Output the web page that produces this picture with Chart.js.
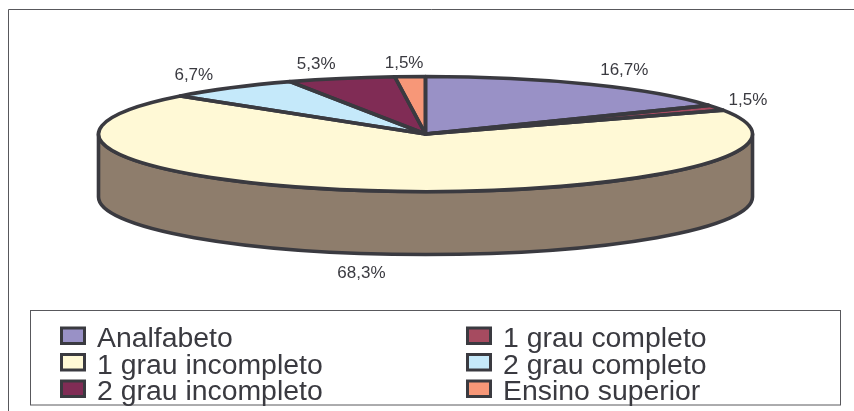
<!DOCTYPE html>
<html>
<head>
<meta charset="utf-8">
<style>html,body{margin:0;padding:0;background:#fff}canvas{display:block}</style>
<script src="https://cdn.jsdelivr.net/npm/chart.js@4"></script>
</head>
<body>
<canvas id="c" width="854" height="411"></canvas>
<script>
const categories = ['Analfabeto','1 grau completo','1 grau incompleto','2 grau completo','2 grau incompleto','Ensino superior'];
const percentages = [16.7,1.5,68.3,6.7,5.3,1.5];
const sliceColors = ['#9991c6','#a64b60','#fff9d6','#c5e9fa','#802c55','#f79778'];
const wallColors = ['#6f6a90','#7a3a48','#8e7d6c','#8fa8b4','#5e2240','#b36f58'];
const labelOffsets = [[35,-9],[31.6,-2.7],[-16,87.5],[-37,-8],[-25,-9],[-6,-8.6]];

const INK = '#3a3a40';
const FRAME = '#58585c';
const SQUASH = 57.5 / 327;
const DEPTH = 63;
const BORDER = 3.6;

function eachArc(chart, fn){
  chart.getDatasetMeta(0).data.forEach((arc, i) => fn(arc, i));
}

const pie3d = {
  id: 'pie3d',
  beforeDraw(chart){
    const ctx = chart.ctx;
    ctx.save();
    ctx.fillStyle = '#fff';
    ctx.fillRect(0,0,chart.width,chart.height);
    ctx.strokeStyle = FRAME;
    ctx.lineWidth = 1;
    ctx.beginPath();
    ctx.moveTo(8.5,411); ctx.lineTo(8.5,9.5); ctx.lineTo(854,9.5);
    ctx.stroke();
    ctx.restore();
  },
  beforeDatasetsDraw(chart){
    const ctx = chart.ctx;
    // side wall: front half of each slice, pushed down by the depth
    eachArc(chart, (arc, i) => {
      const p = arc.getProps(['x','y','startAngle','endAngle','outerRadius'], true);
      const tau = Math.PI*2;
      for (const k of [0, tau]) {
        const a = Math.max(p.startAngle - k, 0), b = Math.min(p.endAngle - k, Math.PI);
        if (b <= a) continue;
        const rx = p.outerRadius, ry = rx*SQUASH;
        ctx.save();
        ctx.beginPath();
        ctx.ellipse(p.x, p.y, rx, ry, 0, a, b);
        ctx.ellipse(p.x, p.y + DEPTH, rx, ry, 0, b, a, true);
        ctx.closePath();
        ctx.fillStyle = wallColors[i];
        ctx.fill();
        ctx.strokeStyle = INK;
        ctx.lineWidth = BORDER;
        ctx.lineJoin = 'round';
        ctx.stroke();
        ctx.restore();
      }
    });
    const first = chart.getDatasetMeta(0).data[0];
    ctx.save();
    ctx.translate(first.x, first.y);
    ctx.scale(1, SQUASH);
    ctx.translate(-first.x, -first.y);
  },
  afterDatasetsDraw(chart){
    const ctx = chart.ctx;
    ctx.restore();
    // outlines at an even width, on the squashed geometry
    eachArc(chart, arc => {
      const p = arc.getProps(['x','y','startAngle','endAngle','outerRadius'], true);
      const ry = p.outerRadius*SQUASH;
      ctx.save();
      ctx.beginPath();
      ctx.moveTo(p.x, p.y);
      ctx.ellipse(p.x, p.y, p.outerRadius, ry, 0, p.startAngle, p.endAngle);
      ctx.closePath();
      ctx.strokeStyle = INK;
      ctx.lineWidth = BORDER;
      ctx.lineJoin = 'round';
      ctx.stroke();
      ctx.restore();
    });
    // percentage labels
    ctx.save();
    ctx.font = '17px "Liberation Sans", Arial, sans-serif';
    ctx.fillStyle = INK;
    ctx.textAlign = 'center';
    ctx.textBaseline = 'alphabetic';
    eachArc(chart, (arc, i) => {
      const p = arc.getProps(['x','y','startAngle','endAngle','outerRadius'], true);
      const m = (p.startAngle + p.endAngle)/2;
      const x = p.x + Math.cos(m)*p.outerRadius + labelOffsets[i][0];
      const y = p.y + Math.sin(m)*p.outerRadius*SQUASH + labelOffsets[i][1];
      ctx.fillText(percentages[i].toFixed(1).replace('.',',') + '%', x, y);
    });
    ctx.restore();
    // legend
    ctx.save();
    ctx.fillStyle = '#fff';
    ctx.strokeStyle = FRAME;
    ctx.lineWidth = 1;
    ctx.fillRect(30.5,310.5,810,94.5);
    ctx.strokeRect(30.5,310.5,810,94.5);
    ctx.font = '28.4px "Liberation Sans", Arial, sans-serif';
    ctx.textBaseline = 'alphabetic';
    ctx.textAlign = 'left';
    categories.forEach((name, i) => {
      const col = i % 2, row = Math.floor(i/2);
      const sx = col ? 467.5 : 61.5, tx = col ? 503 : 97;
      const sy = 328 + row*26.5, by = 347 + row*26.5;
      ctx.fillStyle = sliceColors[i];
      ctx.fillRect(sx, sy, 23, 15.5);
      ctx.strokeStyle = INK;
      ctx.lineWidth = 3;
      ctx.strokeRect(sx, sy, 23, 15.5);
      ctx.fillStyle = INK;
      ctx.fillText(name, tx, by);
    });
    ctx.restore();
  }
};

new Chart(document.getElementById('c'), {
  type: 'pie',
  data: {
    labels: categories,
    datasets: [{
      data: percentages,
      backgroundColor: sliceColors,
      borderWidth: 0,
      clip: false
    }]
  },
  options: {
    responsive: false,
    animation: false,
    radius: 327,
    layout: { padding: { left: 0, right: 3, top: 0, bottom: 143 } },
    plugins: { legend: { display: false }, tooltip: { enabled: false } }
  },
  plugins: [pie3d]
});
</script>
</body>
</html>
